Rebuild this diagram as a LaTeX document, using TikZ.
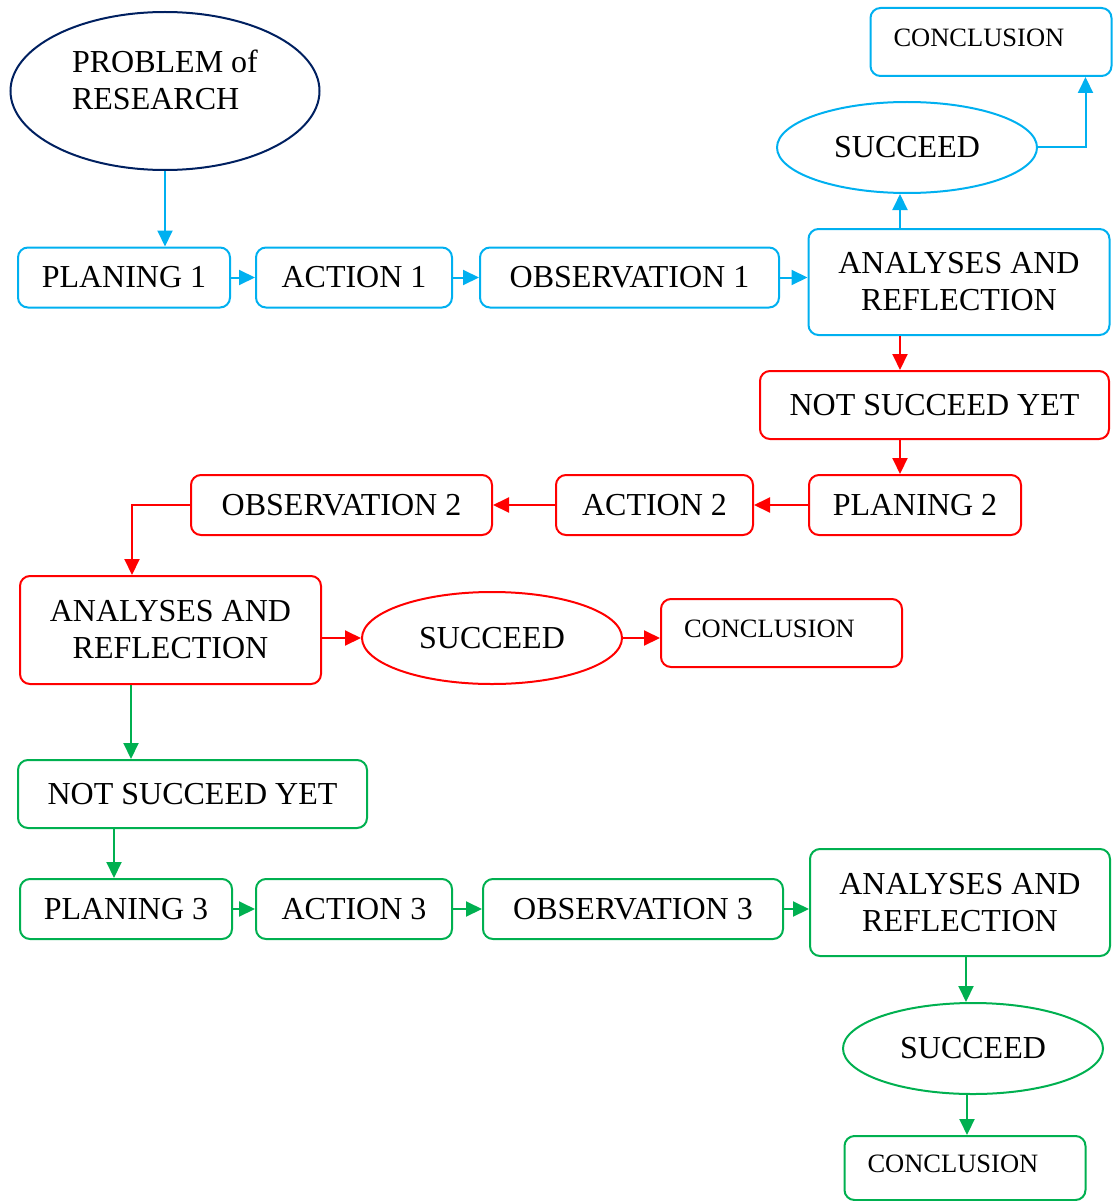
\documentclass[tikz,border=0pt]{standalone}
\usepackage{fontspec}
\setmainfont{Liberation Serif}
\usetikzlibrary{
    shapes.geometric,
    arrows.meta,
    positioning
}
\definecolor{cycleblue}{RGB}{0, 176, 240}
\definecolor{cyclered}{RGB}{255, 0, 0}
\definecolor{cyclegreen}{RGB}{0, 176, 80}
\definecolor{problemnavy}{RGB}{0, 32, 96}

\begin{document}
\begin{tikzpicture}[
        x=1pt, y=-1pt,
        stepbox/.style={rectangle, draw, rounded corners=10pt, line width=2pt, minimum height=60pt, inner sep=0pt, align=center, font=\fontsize{32}{37}\selectfont},
        oval/.style={ellipse, draw, line width=2pt, minimum width=260pt, minimum height=91pt, inner sep=0pt, align=center, font=\fontsize{32}{37}\selectfont},
        endbox/.style={rectangle, draw, rounded corners=10pt, line width=2pt, minimum height=68pt, text width=195pt, inner xsep=23pt, inner ysep=0pt, text depth=9pt, align=left, font=\fontsize{26.5}{30}\selectfont},
        arrow/.style={-{Triangle[length=16pt,width=15pt]}, line width=2pt}
    ]
        \useasboundingbox (0,0) rectangle (1112,1201);

        % cycle 1
        \node[oval, draw=problemnavy, minimum width=309pt, minimum height=158pt, align=left, text depth=22pt] (prob) at (165,91) {PROBLEM of\\RESEARCH};
        \node[stepbox, draw=cycleblue, minimum width=212pt] (plan1) at (124,277.5) {PLANING 1};
        \node[stepbox, draw=cycleblue, minimum width=196pt] (act1) at (354,277.5) {ACTION 1};
        \node[stepbox, draw=cycleblue, minimum width=299pt] (obs1) at (629.5,277.5) {OBSERVATION 1};
        \node[stepbox, draw=cycleblue, minimum width=301pt, minimum height=106pt] (ar1) at (959,282) {ANALYSES AND\\REFLECTION};
        \node[oval, draw=cycleblue] (succ1) at (907,147.5) {SUCCEED};
        \node[endbox, draw=cycleblue] (conc1) at (991,42) {CONCLUSION};

        \draw[arrow, cycleblue] (prob.south) -- (prob.south |- plan1.north);
        \draw[arrow, cycleblue] (plan1.east) -- (act1.west);
        \draw[arrow, cycleblue] (act1.east) -- (obs1.west);
        \draw[arrow, cycleblue] (obs1.east) -- (obs1.east -| ar1.west);
        \draw[arrow, cycleblue] ([xshift=-59pt]ar1.north) -- ([xshift=-59pt]ar1.north |- succ1.south);
        \draw[arrow, cycleblue] (succ1.east) -| ([xshift=-27pt]conc1.south east);

        % cycle 2
        \node[stepbox, draw=cyclered, minimum width=349pt, minimum height=68pt] (nsy1) at (934.5,405) {NOT SUCCEED YET};
        \node[stepbox, draw=cyclered, minimum width=212pt] (plan2) at (915,505) {PLANING 2};
        \node[stepbox, draw=cyclered, minimum width=197pt] (act2) at (654.5,505) {ACTION 2};
        \node[stepbox, draw=cyclered, minimum width=301pt] (obs2) at (341.5,505) {OBSERVATION 2};
        \node[stepbox, draw=cyclered, minimum width=301pt, minimum height=108pt] (ar2) at (170.5,630) {ANALYSES AND\\REFLECTION};
        \node[oval, draw=cyclered, minimum height=92pt] (succ2) at (492,638) {SUCCEED};
        \node[endbox, draw=cyclered] (conc2) at (781.5,633) {CONCLUSION};

        \draw[arrow, cyclered] ([xshift=-59pt]ar1.south) -- ([xshift=-59pt]ar1.south |- nsy1.north);
        \draw[arrow, cyclered] ([xshift=-34.5pt]nsy1.south) -- ([xshift=-34.5pt]nsy1.south |- plan2.north);
        \draw[arrow, cyclered] (plan2.west) -- (act2.east);
        \draw[arrow, cyclered] (act2.west) -- (obs2.east);
        \draw[arrow, cyclered] (obs2.west) -| ([xshift=-38.5pt]ar2.north);
        \draw[arrow, cyclered] (ar2.east |- succ2.west) -- (succ2.west);
        \draw[arrow, cyclered] (succ2.east) -- (succ2.east -| conc2.west);

        % cycle 3
        \node[stepbox, draw=cyclegreen, minimum width=349pt, minimum height=68pt] (nsy2) at (192.5,794) {NOT SUCCEED YET};
        \node[stepbox, draw=cyclegreen, minimum width=212pt] (plan3) at (126,909) {PLANING 3};
        \node[stepbox, draw=cyclegreen, minimum width=196pt] (act3) at (354,909) {ACTION 3};
        \node[stepbox, draw=cyclegreen, minimum width=300pt] (obs3) at (633,909) {OBSERVATION 3};
        \node[stepbox, draw=cyclegreen, minimum width=300pt, minimum height=107pt] (ar3) at (960,902.5) {ANALYSES AND\\REFLECTION};
        \node[oval, draw=cyclegreen] (succ3) at (973,1048.5) {SUCCEED};
        \node[endbox, draw=cyclegreen, minimum height=64pt] (conc3) at (965,1168) {CONCLUSION};

        \draw[arrow, cyclegreen] ([xshift=-39.5pt]ar2.south) -- ([xshift=-39.5pt]ar2.south |- nsy2.north);
        \draw[arrow, cyclegreen] ([xshift=-78.5pt]nsy2.south) -- ([xshift=-78.5pt]nsy2.south |- plan3.north);
        \draw[arrow, cyclegreen] (plan3.east) -- (act3.west);
        \draw[arrow, cyclegreen] (act3.east) -- (obs3.west);
        \draw[arrow, cyclegreen] (obs3.east) -- (obs3.east -| ar3.west);
        \draw[arrow, cyclegreen] ([xshift=6pt]ar3.south) -- ([xshift=6pt]ar3.south |- succ3.north);
        \draw[arrow, cyclegreen] ([xshift=-6pt]succ3.south) -- ([xshift=-6pt]succ3.south |- conc3.north);
    \end{tikzpicture}
\end{document}
